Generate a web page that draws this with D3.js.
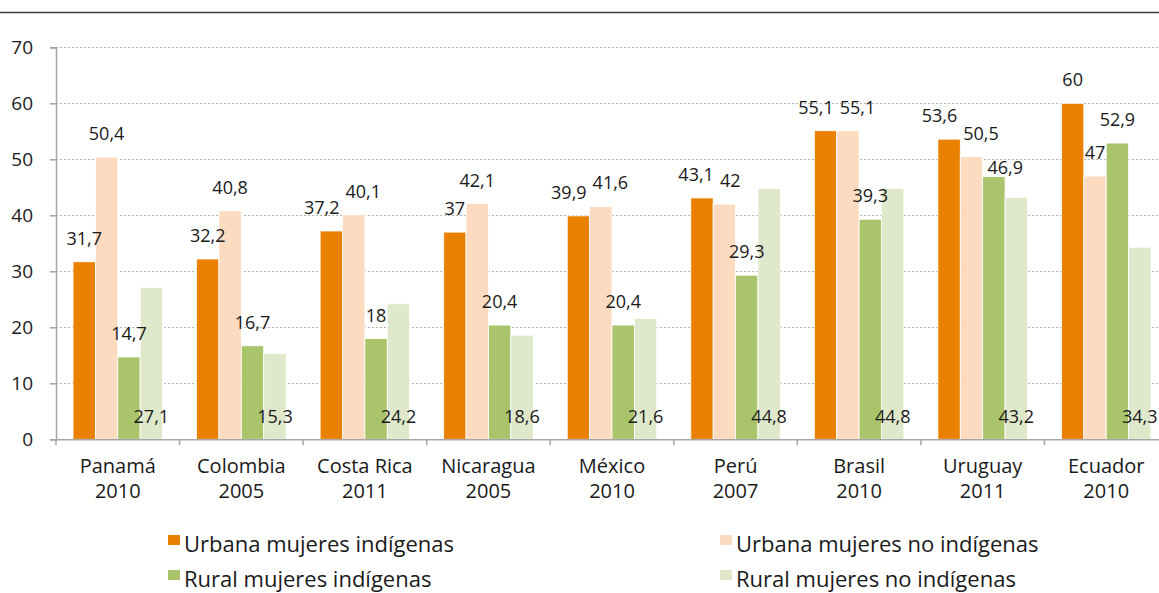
<!DOCTYPE html>
<html>
<head>
<meta charset="utf-8">
<script src="https://cdn.jsdelivr.net/npm/d3@7"></script>
<style>
  body { margin: 0; background: #fff; }
  svg { display: block; font-family: 'Open Sans', sans-serif; }
</style>
</head>
<body>
<div class="chart"></div>
<script>
const width = 1159;
const height = 593;
const fontSize = 18;

// categories (country / year)
const countries = ['Panamá', 'Colombia', 'Costa Rica', 'Nicaragua', 'México', 'Perú', 'Brasil', 'Uruguay', 'Ecuador'];
const years = ['2010', '2005', '2011', '2005', '2010', '2007', '2010', '2011', '2010'];

// series
const seriesNames = [
  'Urbana mujeres indígenas',
  'Urbana mujeres no indígenas',
  'Rural mujeres indígenas',
  'Rural mujeres no indígenas',
];
const urbanaIndigenas = [31.7, 32.2, 37.2, 37, 39.9, 43.1, 55.1, 53.6, 60];
const urbanaNoIndigenas = [50.4, 40.8, 40.1, 42.1, 41.6, 42, 55.1, 50.5, 47];
const ruralIndigenas = [14.7, 16.7, 18, 20.4, 20.4, 29.3, 39.3, 46.9, 52.9];
const ruralNoIndigenas = [27.1, 15.3, 24.2, 18.6, 21.6, 44.8, 44.8, 43.2, 34.3];

const yTicks = [0, 10, 20, 30, 40, 50, 60, 70];

const colors = ['#e98000', '#fcdbc1', '#aac46b', '#dfe8cb'];

const series = [urbanaIndigenas, urbanaNoIndigenas, ruralIndigenas, ruralNoIndigenas];

const svg = d3
  .select('.chart')
  .append('svg')
  .attr('width', width)
  .attr('height', height);

// top rule
svg
  .append('line')
  .attr('x1', 0)
  .attr('x2', width)
  .attr('y1', 12.5)
  .attr('y2', 12.5)
  .attr('stroke', '#3a3a3a')
  .attr('stroke-width', 1.5);

const plotLeft = 56;
const plotRight = 1168;
const plotTop = 47.3;
const plotBottom = 439.3;

const xScale = d3
  .scaleBand()
  .domain(d3.range(countries.length))
  .range([plotLeft, plotRight]);

const xInner = d3
  .scaleBand()
  .domain(d3.range(series.length))
  .range([0, xScale.bandwidth()])
  .paddingInner(0)
  .paddingOuter(0.76);

const yScale = d3.scaleLinear().domain([0, 70]).range([plotBottom, plotTop]);

// gridlines
svg
  .append('g')
  .selectAll('line')
  .data(yTicks.filter((t) => t > 0))
  .enter()
  .append('line')
  .attr('x1', plotLeft)
  .attr('x2', width)
  .attr('y1', (d) => Math.round(yScale(d)) + 0.5)
  .attr('y2', (d) => Math.round(yScale(d)) + 0.5)
  .attr('stroke', '#b4b4b4')
  .attr('stroke-width', 1)
  .attr('stroke-dasharray', '2,2');

// Bars
const groups = svg
  .append('g')
  .selectAll('g')
  .data(countries)
  .enter()
  .append('g')
  .attr('transform', (d, i) => `translate(${xScale(i)},0)`);

groups
  .selectAll('rect')
  .data((d, i) => series.map((s, j) => ({ s: j, v: s[i] })))
  .enter()
  .append('rect')
  .attr('x', (d) => xInner(d.s))
  .attr('y', (d) => yScale(d.v))
  .attr('width', xInner.bandwidth())
  .attr('height', (d) => plotBottom - yScale(d.v))
  .attr('fill', (d) => colors[d.s])
  .attr('stroke', '#fff')
  .attr('stroke-width', 0.8);

// Y axis
const yAxis = d3
  .axisLeft(yScale)
  .tickValues(yTicks)
  .tickSize(6)
  .tickPadding(17)
  .tickFormat(d3.format('d'));
const yG = svg
  .append('g')
  .attr('transform', `translate(${plotLeft},0)`)
  .call(yAxis);
yG.select('.domain').attr('stroke', '#a6a6a6').attr('stroke-width', 1.5);
yG.selectAll('.tick line').attr('stroke', '#a6a6a6').attr('stroke-width', 1.5);
yG.selectAll('.tick text')
  .attr('font-size', 19)
  .attr('font-family', 'Open Sans')
  .attr('fill', '#1a1a1a');

// X axis
const xAxis = d3
  .axisBottom(xScale)
  .tickSize(0)
  .tickFormat(() => '');
const xG = svg
  .append('g')
  .attr('transform', `translate(0,${plotBottom})`)
  .call(xAxis);
xG.select('.domain').attr('stroke', '#a6a6a6').attr('stroke-width', 1.5);

// x ticks at group boundaries
xG.append('g')
  .selectAll('line')
  .data(d3.range(countries.length + 1))
  .enter()
  .append('line')
  .attr('x1', (i) => plotLeft + i * xScale.step())
  .attr('x2', (i) => plotLeft + i * xScale.step())
  .attr('y1', 0)
  .attr('y2', 6)
  .attr('stroke', '#a6a6a6')
  .attr('stroke-width', 1.5);

// category labels
const catLabels = svg
  .append('g')
  .selectAll('text')
  .data(countries)
  .enter()
  .append('text')
  .attr('text-anchor', 'middle')
  .attr('font-size', 20)
  .attr('fill', '#1a1a1a')
  .attr('x', (d, i) => xScale(i) + xScale.bandwidth() / 2)
  .attr('y', 473);
catLabels.append('tspan').text((d) => d);
catLabels
  .append('tspan')
  .attr('x', (d, i) => xScale(i) + xScale.bandwidth() / 2)
  .attr('dy', 25)
  .text((d, i) => years[i]);

// Data labels
const fmt = (v) => String(v).replace('.', ',');
groups.each(function (d, i) {
  const g = d3.select(this);
  const labels = series.map((s, j) => {
    const v = s[i];
    const x = xInner(j) + xInner.bandwidth() / 2;
    // last series sits at the base of its bar
    const cy = j === 3 ? plotBottom - 23 : yScale(v) - 23.5;
    const t = g
      .append('text')
      .attr('text-anchor', 'middle')
      .attr('font-size', fontSize)
      .attr('fill', '#1a1a1a')
      .attr('x', x)
      .attr('y', cy + 6.5)
      .text(fmt(v));
    return { t, x, cy, w: t.node().getComputedTextLength(), moved: false };
  });
  // push apart labels that collide
  for (let j = 0; j < 2; j++) {
    const a = labels[j];
    const b = labels[j + 1];
    if (Math.abs(a.cy - b.cy) < 22) {
      const ov = a.x + a.w / 2 - (b.x - b.w / 2);
      if (ov > -3) {
        if (!a.moved) {
          const shift = ov / 2 + 3;
          a.x -= shift;
          b.x += shift;
        } else {
          // left one already moved: drop the right one closer to its bar
          b.cy += 14;
          b.x += ov / 2;
        }
        a.moved = b.moved = true;
        a.t.attr('x', a.x).attr('y', a.cy + 6.5);
        b.t.attr('x', b.x).attr('y', b.cy + 6.5);
      }
    }
  }
});

// Legend
const legendPos = [
  [168, 552],
  [720, 552],
  [168, 587],
  [720, 587],
];
const legend = svg
  .append('g')
  .selectAll('g')
  .data(seriesNames)
  .enter()
  .append('g')
  .attr('transform', (d, i) => `translate(${legendPos[i][0]},${legendPos[i][1]})`);
legend
  .append('rect')
  .attr('x', 0)
  .attr('y', -17)
  .attr('width', 12)
  .attr('height', 10)
  .attr('fill', (d, i) => colors[i]);
legend
  .append('text')
  .attr('x', 16)
  .attr('y', 0)
  .attr('font-size', 22)
  .attr('fill', '#1a1a1a')
  .text((d) => d);
</script>
</body>
</html>
